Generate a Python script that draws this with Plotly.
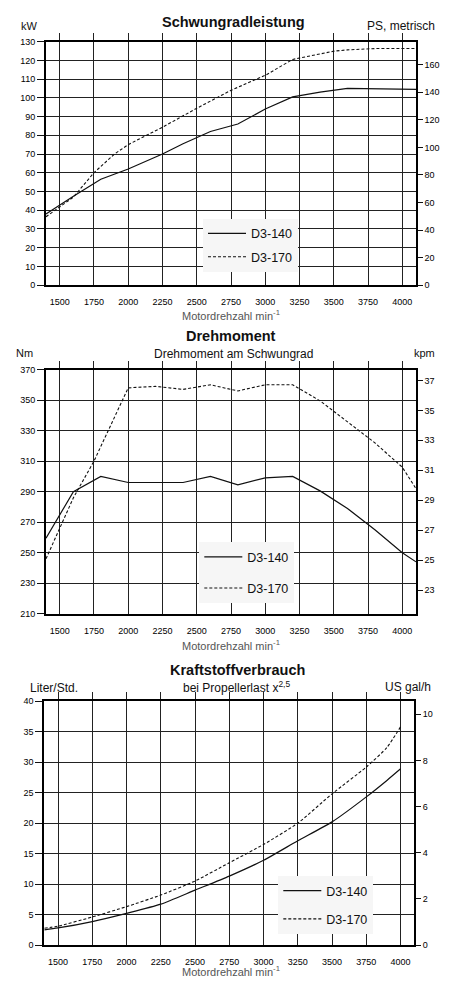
import plotly.graph_objects as go

# ---------------- data ----------------
KW_TO_PS = 1.35962
NM_TO_KPM = 1 / 9.80665
L_TO_USGAL = 1 / 3.78541

rpm_ticks = [1500, 1750, 2000, 2250, 2500, 2750, 3000, 3250, 3500, 3750, 4000]
x_range = [1400, 4100]

# Schwungradleistung (kW)
p_rpm_140 = [1400, 1600, 1800, 2000, 2250, 2400, 2600, 2800, 3000, 3200, 3400, 3600, 4100]
p_kw_140 = [38, 47.5, 56.5, 62, 70, 75.5, 82, 86, 94, 100.5, 103, 105, 104.5]
p_rpm_170 = [1400, 1600, 1750, 1900, 2000, 2250, 2500, 2750, 3000, 3200, 3500, 3600, 3800, 4100]
p_kw_170 = [36.5, 47, 60, 70, 75, 84.3, 94.4, 104, 112, 120.5, 124.9, 125.6, 126.3, 126.3]
p_range = [0, 130]

# Drehmoment (Nm)
t_rpm_140 = [1400, 1600, 1800, 2000, 2200, 2400, 2600, 2800, 3000, 3200, 3400, 3600, 3800, 4000, 4100]
t_nm_140 = [259.5, 290, 300, 296, 296, 296, 300, 294.5, 299, 300, 290.5, 279, 265, 250, 244]
t_rpm_170 = [1400, 1600, 1750, 2000, 2200, 2400, 2600, 2800, 3000, 3200, 3400, 3600, 3800, 4000, 4100]
t_nm_170 = [246, 286, 310, 358, 359, 357, 360, 356, 360, 360, 349.5, 336, 322, 306, 292]
t_range = [210, 370]

# Kraftstoffverbrauch (Liter/Std.)
f_rpm = [1400, 1500, 1750, 2000, 2250, 2500, 2750, 3000, 3250, 3500, 3750, 3900, 4000]
f_l_140 = [2.5, 2.8, 3.85, 5.2, 6.7, 9.0, 11.3, 13.9, 17.1, 20.2, 24.3, 27.0, 28.9]
f_l_170 = [2.75, 3.1, 4.6, 6.3, 8.2, 10.5, 13.5, 16.5, 20.0, 24.8, 29.2, 32.4, 35.8]
f_range = [0, 40]

names = ["D3-140", "D3-170"]

# ---------------- layout helpers ----------------
W, H = 452, 983
FONT = "Liberation Sans, Arial, Helvetica, sans-serif"
GRID = "#222"


def px(x):
    return x / W


def py(y):
    return 1 - y / H


fig = go.Figure()

line_solid = dict(color="#111", width=1.2)
line_dash = dict(color="#111", width=1.1, dash="3px,2px")

charts = [
    dict(x="", y="", r="4", t="4", xd=(46, 416), yd=(37, 283), yr=p_range, dt=10, t0=0,
         rr=[p_range[0] * KW_TO_PS, p_range[1] * KW_TO_PS], rdt=20, rt0=0,
         data=[(p_rpm_140, p_kw_140), (p_rpm_170, p_kw_170)], leg="legend", spline=False),
    dict(x="2", y="2", r="5", t="5", xd=(46, 416), yd=(368.3, 615), yr=t_range, dt=20, t0=210,
         rr=[t_range[0] * NM_TO_KPM, t_range[1] * NM_TO_KPM], rdt=2, rt0=23,
         data=[(t_rpm_140, t_nm_140), (t_rpm_170, t_nm_170)], leg="legend2", spline=False),
    dict(x="3", y="3", r="6", t="6", xd=(44.3, 414.3), yd=(703.3, 949.7), yr=f_range, dt=5, t0=0,
         rr=[f_range[0] * L_TO_USGAL, f_range[1] * L_TO_USGAL], rdt=2, rt0=0,
         data=[(f_rpm, f_l_140), (f_rpm, f_l_170)], leg="legend3", spline=True),
]

tickfont = dict(family=FONT, size=9, color="#000")

for c in charts:
    xa = "x" + c["x"]
    ya = "y" + c["y"]
    for i, (xs, ys) in enumerate(c["data"]):
        fig.add_trace(go.Scatter(
            x=xs, y=ys, mode="lines", name=names[i],
            line=dict(**(line_solid if i == 0 else line_dash),
                      shape="spline" if c["spline"] else "linear", smoothing=0.6),
            xaxis=xa, yaxis=ya, legend=c["leg"], legendgroup=c["leg"] + names[i],
            hoverinfo="skip",
        ))
    fig.add_trace(go.Scatter(x=[], y=[], xaxis=xa, yaxis="y" + c["r"], showlegend=False))
    fig.add_trace(go.Scatter(x=[], y=[], xaxis="x" + c["t"], yaxis=ya, showlegend=False))

    xdom = [px(c["xd"][0]), px(c["xd"][1])]
    ydom = [py(c["yd"][1]), py(c["yd"][0])]
    xkey = "xaxis" + c["x"]
    ykey = "yaxis" + c["y"]
    fig.update_layout({
        xkey: dict(domain=xdom, anchor=ya, range=x_range, tickvals=rpm_ticks,
                   showgrid=True, gridcolor=GRID, gridwidth=1.4, zeroline=False,
                   showline=True, linecolor="#000", linewidth=2,
                   ticks="outside", ticklen=7, tickcolor="rgba(0,0,0,0)",
                   tickfont=tickfont, fixedrange=True),
        ykey: dict(domain=ydom, anchor=xa, range=c["yr"], tick0=c["t0"], dtick=c["dt"],
                   showgrid=True, gridcolor=GRID, gridwidth=1.4, zeroline=False,
                   showline=True, linecolor="#000", linewidth=2,
                   ticks="outside", ticklen=7, tickwidth=1.2, tickcolor="#111",
                   tickfont=tickfont, fixedrange=True),
        "yaxis" + c["r"]: dict(overlaying=ya, anchor=xa, side="right", range=c["rr"],
                               tick0=c["rt0"], dtick=c["rdt"], showgrid=False, zeroline=False,
                               showline=True, linecolor="#000", linewidth=1.5,
                               ticks="outside", ticklen=5, tickwidth=1.2, tickcolor="#111",
                               tickfont=tickfont, fixedrange=True),
        "xaxis" + c["t"]: dict(overlaying=xa, anchor=ya, side="top", range=x_range,
                               tickvals=rpm_ticks, showticklabels=False, showgrid=False,
                               zeroline=False, showline=True, linecolor="#000", linewidth=1.5,
                               ticks="outside", ticklen=7, tickwidth=1.4, tickcolor=GRID,
                               fixedrange=True),
    })

legfont = dict(family=FONT, size=12.5, color="#111")
legend_common = dict(bgcolor="#f6f6f6", borderwidth=0, font=legfont, xanchor="left",
                     yanchor="top", traceorder="grouped", itemwidth=38)
fig.update_layout(
    legend=dict(x=px(203), y=py(216), tracegroupgap=4, **legend_common),
    legend2=dict(x=px(199.3), y=py(542.7), tracegroupgap=12, **legend_common),
    legend3=dict(x=px(278.3), y=py(880), tracegroupgap=9, **legend_common),
)

ann = []


def text(t, x, y, size, anchor="center", bold=False, color="#111"):
    ann.append(dict(text=("<b>%s</b>" % t) if bold else t, x=px(x), y=py(y),
                    xref="paper", yref="paper", xanchor=anchor, yanchor="middle",
                    showarrow=False, font=dict(family=FONT, size=size, color=color)))


xtitle = "Motordrehzahl min<sup>-1</sup>"
text("Schwungradleistung", 233, 17.5, 14.5, bold=True)
text("kW", 19, 21, 11, anchor="left")
text("PS, metrisch", 437, 21, 12, anchor="right")
text(xtitle, 231, 313, 11, color="#555")
text("Drehmoment", 231, 334, 14.5, bold=True)
text("Drehmoment am Schwungrad", 233, 352.3, 12)
text("Nm", 14, 352, 11, anchor="left")
text("kpm", 437, 352, 11, anchor="right")
text(xtitle, 231, 646.7, 11, color="#555")
text("Kraftstoffverbrauch", 237.5, 671.7, 14.5, bold=True)
text("bei Propellerlast x<sup>2,5</sup>", 236, 689.3, 12)
text("Liter/Std.", 28, 690, 12, anchor="left")
text("US gal/h", 433, 689.3, 12, anchor="right")
text(xtitle, 231, 975.5, 11, color="#555")

fig.update_layout(
    width=W, height=H, margin=dict(l=0, r=0, t=0, b=0),
    paper_bgcolor="#fff", plot_bgcolor="#fff", annotations=ann,
    font=dict(family=FONT, color="#111"), hovermode=False,
)

fig.write_html("out.html", config={"displayModeBar": False},
               post_script="document.body.style.margin='0';document.body.style.overflow='hidden';")
